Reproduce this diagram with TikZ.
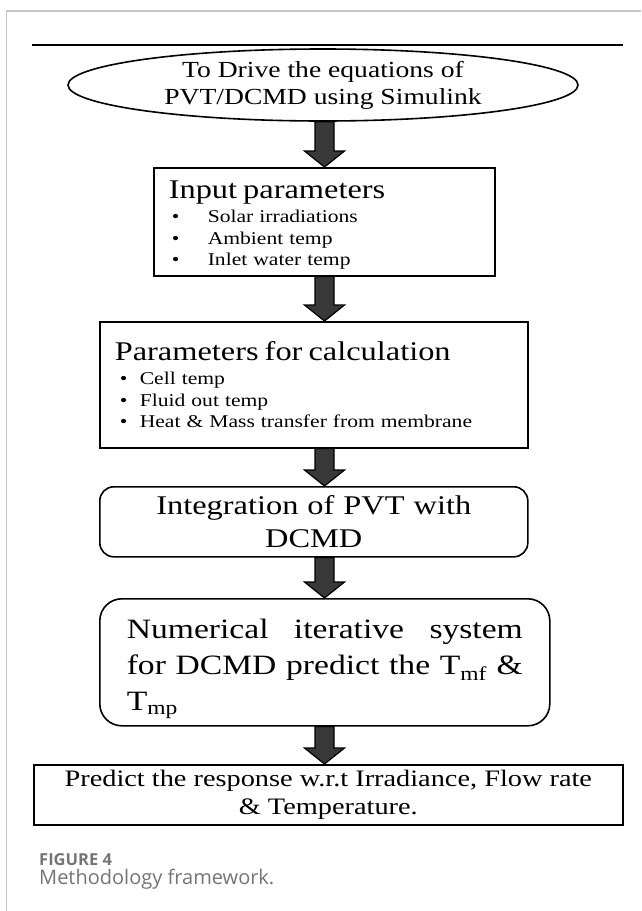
\documentclass[tikz,border=0pt]{standalone}
\usepackage{fontspec}
\setmainfont{Liberation Serif}[FakeStretch=1.2]
\newfontfamily\captionfont{Open Sans}
\usetikzlibrary{shapes.geometric,calc}
\definecolor{framegray}{HTML}{C8C8C8}
\definecolor{figgray}{HTML}{747474}
% thick block arrow between two boxes, kept on the common axis
\newcommand{\blockarrow}[2]{%
  \path[arrowbody] let \p1=(#1.south -| axis), \p2=(#2.north -| axis) in
    (\x1-9.5pt,\y1) -- (\x1+9.5pt,\y1) -- (\x1+9.5pt,\y2+16pt) -- (\x1+20pt,\y2+16pt)
    -- (\x1,\y2) -- (\x1-20pt,\y2+16pt) -- (\x1-9.5pt,\y2+16pt) -- cycle;}

\begin{document}
\begin{tikzpicture}[x=1pt,y=-1pt,
  box/.style={draw, line width=1.6pt, anchor=north west, inner ysep=0pt, align=left},
  arrowbody/.style={draw=black, line width=1.2pt, fill=black!78, line join=miter}]
\useasboundingbox (0,0) rectangle (641,911);
\draw[framegray, line width=1.5pt] (6.5,911) -- (6.5,11) -- (641,11);
\draw[line width=2.8pt] (32,45) -- (623,45);
\coordinate (axis) at (324.5,0);

\node[draw, ellipse, line width=1.6pt, minimum width=510pt, minimum height=72pt, inner sep=0pt,
  align=center, font=\fontsize{23pt}{27pt}\selectfont] (goal) at (323,85)
  {To Drive the equations of\\PVT/DCMD using Simulink};

\node[box, minimum width=341pt, minimum height=108pt, text width=311pt, inner xsep=15pt,
  font=\fontsize{18pt}{21.5pt}\selectfont] (inputs) at (153,167)
  {{\fontsize{27pt}{27pt}\selectfont\rule{0pt}{25pt}Input parameters}\\[2.5pt]
   \hspace*{3pt}\makebox[36pt][l]{\textbullet}Solar irradiations\\
   \hspace*{3pt}\makebox[36pt][l]{\textbullet}Ambient temp\\
   \hspace*{3pt}\makebox[36pt][l]{\textbullet}Inlet water temp};

\node[box, minimum width=428pt, minimum height=126pt, text width=398pt, inner xsep=15pt,
  font=\fontsize{18pt}{21.5pt}\selectfont] (calcs) at (99,321)
  {{\fontsize{27pt}{27pt}\selectfont Parameters for calculation}\\[2.5pt]
   \hspace*{5pt}\makebox[20pt][l]{\textbullet}Cell temp\\
   \hspace*{5pt}\makebox[20pt][l]{\textbullet}Fluid out temp\\
   \hspace*{5pt}\makebox[20pt][l]{\textbullet}Heat \& Mass transfer from membrane};

\node[box, rounded corners=14pt, align=center, minimum width=428pt, minimum height=70pt,
  text width=400pt, inner xsep=14pt, font=\fontsize{27pt}{33pt}\selectfont] (integ) at (99,486)
  {Integration of PVT with\\DCMD};

\node[box, rounded corners=22pt, minimum width=450pt, minimum height=127pt,
  text width=396pt, inner xsep=27pt, font=\fontsize{28pt}{36pt}\selectfont] (numsys) at (99,598)
  {\rule{0pt}{33pt}\makebox[396pt][l]{Numerical\hfill iterative\hfill system}\\
   \makebox[396pt][l]{for\hfill DCMD\hfill predict\hfill the\hfill T\textsubscript{mf}\hfill\&}\\
   T\textsubscript{mp}};

\node[box, align=center, minimum width=589pt, minimum height=60pt, inner xsep=0pt,
  font=\fontsize{23.6pt}{28pt}\selectfont] (predict) at (33,764)
  {Predict the response w.r.t Irradiance, Flow rate\\\& Temperature.};

\blockarrow{goal}{inputs}
\blockarrow{inputs}{calcs}
\blockarrow{calcs}{integ}
\blockarrow{integ}{numsys}
\blockarrow{numsys}{predict}

\node[anchor=base west, inner sep=0pt, text=figgray,
  font=\captionfont\bfseries\fontsize{16.5pt}{16.5pt}\selectfont] (figlabel) at (39,865) {FIGURE 4};
\node[anchor=base west, inner sep=0pt, text=figgray,
  font=\captionfont\fontsize{20pt}{20pt}\selectfont] (figtitle) at (39,884) {Methodology framework.};
\end{tikzpicture}
\end{document}
